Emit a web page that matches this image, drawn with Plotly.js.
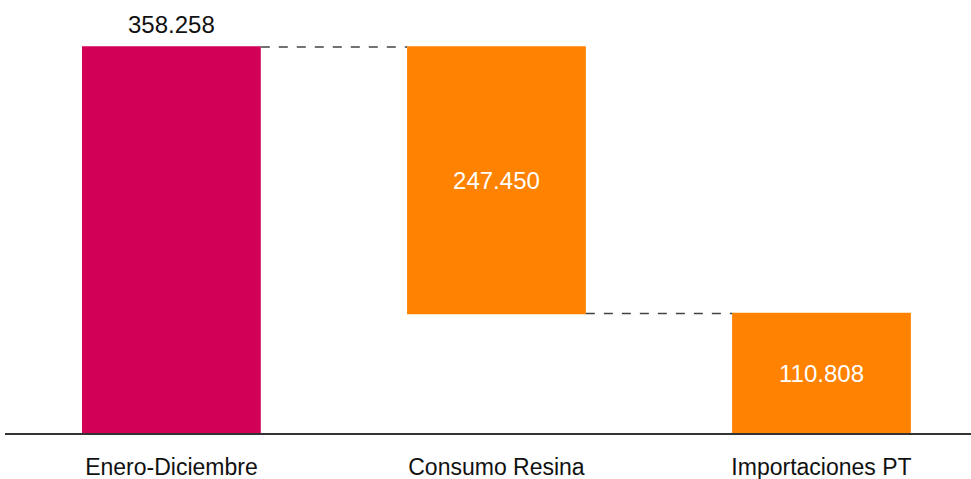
<!DOCTYPE html>
<html>
<head>
<meta charset="utf-8">
<script src="https://cdn.plot.ly/plotly-3.0.1.min.js"></script>
<style>html,body{margin:0;padding:0;background:#fff;}#chart{width:971px;height:479px;}</style>
</head>
<body>
<div id="chart"></div>
<script>
var categories = ["Enero-Diciembre", "Consumo Resina", "Importaciones PT"];
var measures = ["relative", "relative", "total"];
var values = [358258, -247450, 110808];
var labels = ["358.258", "247.450", "110.808"];

var FONT = "Liberation Sans, Arial, sans-serif";

var trace = {
  type: "waterfall",
  x: categories,
  y: values,
  measure: measures,
  text: ["", labels[1], labels[2]],
  texttemplate: "%{text}",
  textposition: ["none", "inside", "inside"],
  insidetextanchor: "middle",
  insidetextfont: {family: FONT, size: 24, color: "#ffffff"},
  constraintext: "none",
  cliponaxis: false,
  width: 0.55,
  increasing: {marker: {color: "#D20056"}},
  decreasing: {marker: {color: "#FF8200"}},
  totals: {marker: {color: "#FF8200"}},
  connector: {mode: "between", line: {color: "#444444", width: 1.5, dash: "dash"}},
  hoverinfo: "none"
};

var layout = {
  width: 971, height: 479,
  margin: {l: 5, r: 0, t: 10, b: 46},
  paper_bgcolor: "#ffffff", plot_bgcolor: "#ffffff",
  showlegend: false,
  font: {family: FONT, color: "#111111"},
  xaxis: {
    range: [-0.512, 2.46],
    showline: true, linecolor: "#333333", linewidth: 2,
    showgrid: false, zeroline: false,
    ticks: "outside", ticklen: 12, tickcolor: "rgba(0,0,0,0)",
    tickfont: {size: 23, color: "#111111"}
  },
  yaxis: {
    range: [0, 392600],
    visible: false, showgrid: false, zeroline: false
  },
  annotations: [{
    x: categories[0], y: values[0], xref: "x", yref: "y",
    text: labels[0], showarrow: false,
    yanchor: "bottom", yshift: 7,
    font: {family: FONT, size: 24, color: "#111111"}
  }]
};

Plotly.newPlot("chart", [trace], layout, {displayModeBar: false, staticPlot: true});
</script>
</body>
</html>
